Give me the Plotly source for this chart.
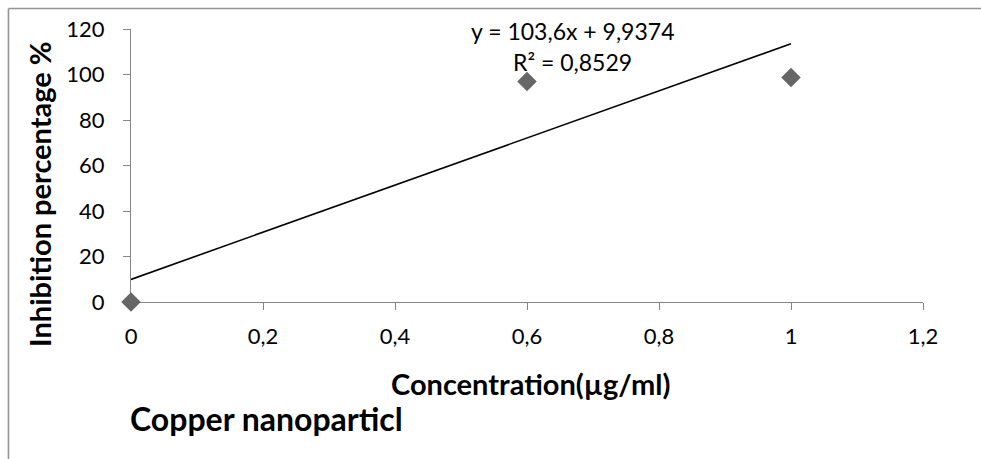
import numpy as np
import plotly.graph_objects as go

# Measured inhibition for copper nanoparticles
concentration = [0.0, 0.6, 1.0]          # µg/ml
inhibition = [0.0, 96.93, 98.63]         # %

# Linear trendline (Excel-style), shown in the equation label
trend_slope = 103.6
trend_intercept = 9.9374
trend_r2 = 0.8529

x_ticks = [0, 0.2, 0.4, 0.6, 0.8, 1.0, 1.2]
x_tick_text = ["0", "0,2", "0,4", "0,6", "0,8", "1", "1,2"]
y_ticks = [0, 20, 40, 60, 80, 100, 120]

FONT = "Lato"
AXIS_GREY = "#868686"


def dec(v):
    return f"{v}".replace(".", ",")


trend_x = np.array([min(concentration), max(concentration)])
trend_y = trend_slope * trend_x + trend_intercept

fig = go.Figure()

fig.add_trace(go.Scatter(
    x=trend_x, y=trend_y, mode="lines",
    line=dict(color="black", width=1.6),
    hoverinfo="skip", showlegend=False, cliponaxis=False,
))

fig.add_trace(go.Scatter(
    x=concentration, y=inhibition, mode="markers",
    marker=dict(symbol="diamond", size=15, color="#666666"),
    showlegend=False, cliponaxis=False,
))

# plot-area geometry helpers (pixels -> paper fractions)
L, R, T, B = 131, 922.7, 29, 302


def px(p):
    return (p - L) / (R - L)


def py(p):
    return (B - p) / (B - T)


annotations = [
    dict(text=f"y = {dec(trend_slope)}x + {dec(trend_intercept)}",
         x=px(572), y=py(31), xref="paper", yref="paper",
         showarrow=False, font=dict(family=FONT, size=23, color="black"),
         xanchor="center", yanchor="middle"),
    dict(text=f"R² = {dec(trend_r2)}",
         x=px(572), y=py(62), xref="paper", yref="paper",
         showarrow=False, font=dict(family=FONT, size=23, color="black"),
         xanchor="center", yanchor="middle"),
    dict(text="<b>Concentration(µg/ml)</b>",
         x=px(530), y=py(383), xref="paper", yref="paper",
         showarrow=False, font=dict(family=FONT, size=29, color="black"),
         xanchor="center", yanchor="middle"),
    dict(text="<b>Inhibition percentage %</b>",
         x=px(39), y=py(194), xref="paper", yref="paper", textangle=-90,
         showarrow=False, font=dict(family=FONT, size=29, color="black"),
         xanchor="center", yanchor="middle"),
    dict(text="<b>Copper nanoparticl</b>",
         x=px(128), y=py(418), xref="paper", yref="paper",
         showarrow=False, font=dict(family=FONT, size=32, color="black"),
         xanchor="left", yanchor="middle"),
]

# chart frame (top and left edges visible)
shapes = [
    dict(type="line", xref="paper", yref="paper",
         x0=px(8.5), x1=px(1010), y0=py(8.5), y1=py(8.5),
         line=dict(color="#959595", width=1.6)),
    dict(type="line", xref="paper", yref="paper",
         x0=px(8.5), x1=px(8.5), y0=py(8.5), y1=py(480),
         line=dict(color="#959595", width=1.6)),
]

fig.update_layout(
    width=981, height=459, autosize=False,
    margin=dict(l=L, r=981 - R, t=T, b=459 - B, pad=0),
    paper_bgcolor="white", plot_bgcolor="white",
    font=dict(family=FONT, size=22, color="black"),
    annotations=annotations, shapes=shapes,
    xaxis=dict(
        range=[0, 1.2], tickvals=x_ticks, ticktext=x_tick_text,
        showgrid=False, zeroline=False, showline=True,
        linecolor=AXIS_GREY, linewidth=1.3,
        ticks="outside", ticklen=7, tickcolor=AXIS_GREY, tickwidth=1.3,
        ticklabelstandoff=7, layer="below traces",
        tickfont=dict(family=FONT, size=22, color="black"),
    ),
    yaxis=dict(
        range=[0, 120], tickvals=y_ticks,
        showgrid=False, zeroline=False, showline=True,
        linecolor=AXIS_GREY, linewidth=1.3,
        ticks="outside", ticklen=7, tickcolor=AXIS_GREY, tickwidth=1.3,
        ticklabelstandoff=14, layer="below traces",
        tickfont=dict(family=FONT, size=22, color="black"),
    ),
)

fig.write_html("out.html")
